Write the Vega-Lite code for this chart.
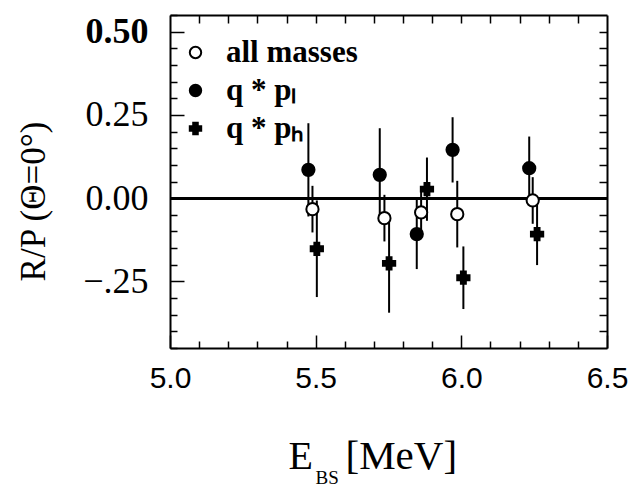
{
  "$schema": "https://vega.github.io/schema/vega-lite/v6.json",
  "width": 437,
  "height": 333,
  "autosize": {"type": "none"},
  "padding": {"left": 170, "top": 15, "right": 30, "bottom": 138},
  "background": "white",
  "config": {
    "view": {"stroke": null},
    "axis": {"domainColor": "black", "domainWidth": 2, "tickColor": "black", "tickWidth": 1.5, "grid": false, "labelColor": "black", "titleColor": "black"},
    "legend": {"title": null, "orient": "none", "legendX": 10, "legendY": 22, "padding": 0,
      "labelFont": "Liberation Serif", "labelFontSize": 31, "labelFontWeight": "bold", "labelColor": "black",
      "symbolSize": 130, "symbolStrokeWidth": 2, "labelOffset": 15, "rowPadding": 6, "labelLimit": 300}
  },
  "data": {
    "values": [
      {"series": "q * pₗ", "x": 5.475, "y": 0.085, "lo": -0.055, "hi": 0.225},
      {"series": "q * pₗ", "x": 5.72, "y": 0.07, "lo": -0.07, "hi": 0.21},
      {"series": "q * pₗ", "x": 5.847, "y": -0.108, "lo": -0.213, "hi": -0.003},
      {"series": "q * pₗ", "x": 5.97, "y": 0.145, "lo": 0.047, "hi": 0.243},
      {"series": "q * pₗ", "x": 6.233, "y": 0.09, "lo": -0.005, "hi": 0.185},
      {"series": "all masses", "x": 5.489, "y": -0.033, "lo": -0.103, "hi": 0.037},
      {"series": "all masses", "x": 5.736, "y": -0.06, "lo": -0.13, "hi": 0.01},
      {"series": "all masses", "x": 5.862, "y": -0.043, "lo": -0.113, "hi": 0.027},
      {"series": "all masses", "x": 5.986, "y": -0.048, "lo": -0.148, "hi": 0.052},
      {"series": "all masses", "x": 6.245, "y": -0.007, "lo": -0.077, "hi": 0.063},
      {"series": "q * pₕ", "x": 5.504, "y": -0.152, "lo": -0.297, "hi": -0.007},
      {"series": "q * pₕ", "x": 5.752, "y": -0.196, "lo": -0.344, "hi": -0.048},
      {"series": "q * pₕ", "x": 5.882, "y": 0.027, "lo": -0.068, "hi": 0.122},
      {"series": "q * pₕ", "x": 6.007, "y": -0.239, "lo": -0.333, "hi": -0.145},
      {"series": "q * pₕ", "x": 6.26, "y": -0.108, "lo": -0.201, "hi": -0.015}
    ]
  },
  "resolve": {"axis": {"x": "independent", "y": "independent"}},
  "layer": [
    {
      "mark": {"type": "rule", "color": "black", "strokeWidth": 2},
      "encoding": {
        "x": {"field": "x", "type": "quantitative",
          "scale": {"domain": [5.0, 6.5], "nice": false, "zero": false},
          "axis": {"orient": "bottom", "values": [5.0, 5.5, 6.0, 6.5], "tickSize": -13, "labelPadding": 28, "format": ".1f",
            "labelFont": "Liberation Sans", "labelFontSize": 30, "labelFlush": false,
            "title": "E", "titleFont": "Liberation Serif", "titleFontSize": 40, "titleFontWeight": "normal",
            "titleX": 118, "titleY": 120, "titleAlign": "left", "titleBaseline": "alphabetic", "titleAngle": 0}},
        "y": {"field": "lo", "type": "quantitative",
          "scale": {"domain": [-0.45, 0.55], "nice": false, "zero": false},
          "axis": {"orient": "left", "values": [-0.25, 0, 0.25, 0.5], "tickSize": -14, "labelPadding": 36,
            "labelExpr": "datum.value == -0.25 ? '−.25' : format(datum.value, '.2f')",
            "labelFont": "Liberation Serif", "labelFontSize": 36,
            "labelFontWeight": {"condition": {"test": "datum.value == 0.5", "value": "bold"}, "value": "normal"},
            "title": "R/P  (Θ=0°)", "titleFont": "Liberation Serif", "titleFontSize": 35, "titleFontWeight": "normal",
            "titleAngle": -90, "titleX": -137, "titleY": 186, "titleAlign": "center", "titleBaseline": "middle"}},
        "y2": {"field": "hi"}
      }
    },
    {
      "mark": {"type": "rule", "color": "black", "strokeWidth": 2.5},
      "encoding": {
        "y": {"datum": 0, "type": "quantitative",
          "axis": {"orient": "left", "values": [-0.45, -0.4, -0.35, -0.3, -0.2, -0.15, -0.1, -0.05, 0.05, 0.1, 0.15, 0.2, 0.3, 0.35, 0.4, 0.45, 0.55], "tickSize": -7, "labels": false, "domain": false, "title": null}},
        "x": {"datum": 5.0, "type": "quantitative",
          "axis": {"orient": "bottom", "values": [5.1, 5.2, 5.3, 5.4, 5.6, 5.7, 5.8, 5.9, 6.1, 6.2, 6.3, 6.4], "tickSize": -7, "labels": false, "domain": false,
            "title": "BS", "titleFont": "Liberation Serif", "titleFontSize": 19, "titleFontWeight": "normal",
            "titleX": 145, "titleY": 135, "titleAlign": "left", "titleBaseline": "alphabetic", "titleAngle": 0}},
        "x2": {"datum": 6.5}
      }
    },
    {
      "mark": {"type": "point", "filled": true, "strokeWidth": 2, "size": 150, "opacity": 1},
      "encoding": {
        "x": {"field": "x", "type": "quantitative",
          "axis": {"orient": "top", "values": [5.1, 5.2, 5.3, 5.4, 5.5, 5.6, 5.7, 5.8, 5.9, 6.0, 6.1, 6.2, 6.3, 6.4], "tickSize": -8, "labels": false,
            "title": "[MeV]", "titleFont": "Liberation Serif", "titleFontSize": 41, "titleFontWeight": "normal",
            "titleX": 175, "titleY": 453, "titleAlign": "left", "titleBaseline": "alphabetic", "titleAngle": 0}},
        "y": {"field": "y", "type": "quantitative",
          "axis": {"orient": "right", "values": [-0.4, -0.35, -0.3, -0.25, -0.2, -0.15, -0.1, -0.05, 0, 0.05, 0.1, 0.15, 0.2, 0.25, 0.3, 0.35, 0.4, 0.45, 0.5], "tickSize": -8, "labels": false, "title": null}},
        "shape": {"field": "series", "type": "nominal",
          "scale": {"domain": ["all masses", "q * pₗ", "q * pₕ"], "range": ["circle", "circle", "cross"]}},
        "fill": {"field": "series", "type": "nominal",
          "scale": {"domain": ["all masses", "q * pₗ", "q * pₕ"], "range": ["white", "black", "black"]}},
        "stroke": {"field": "series", "type": "nominal",
          "scale": {"domain": ["all masses", "q * pₗ", "q * pₕ"], "range": ["black", "black", "black"]}}
      }
    }
  ]
}
